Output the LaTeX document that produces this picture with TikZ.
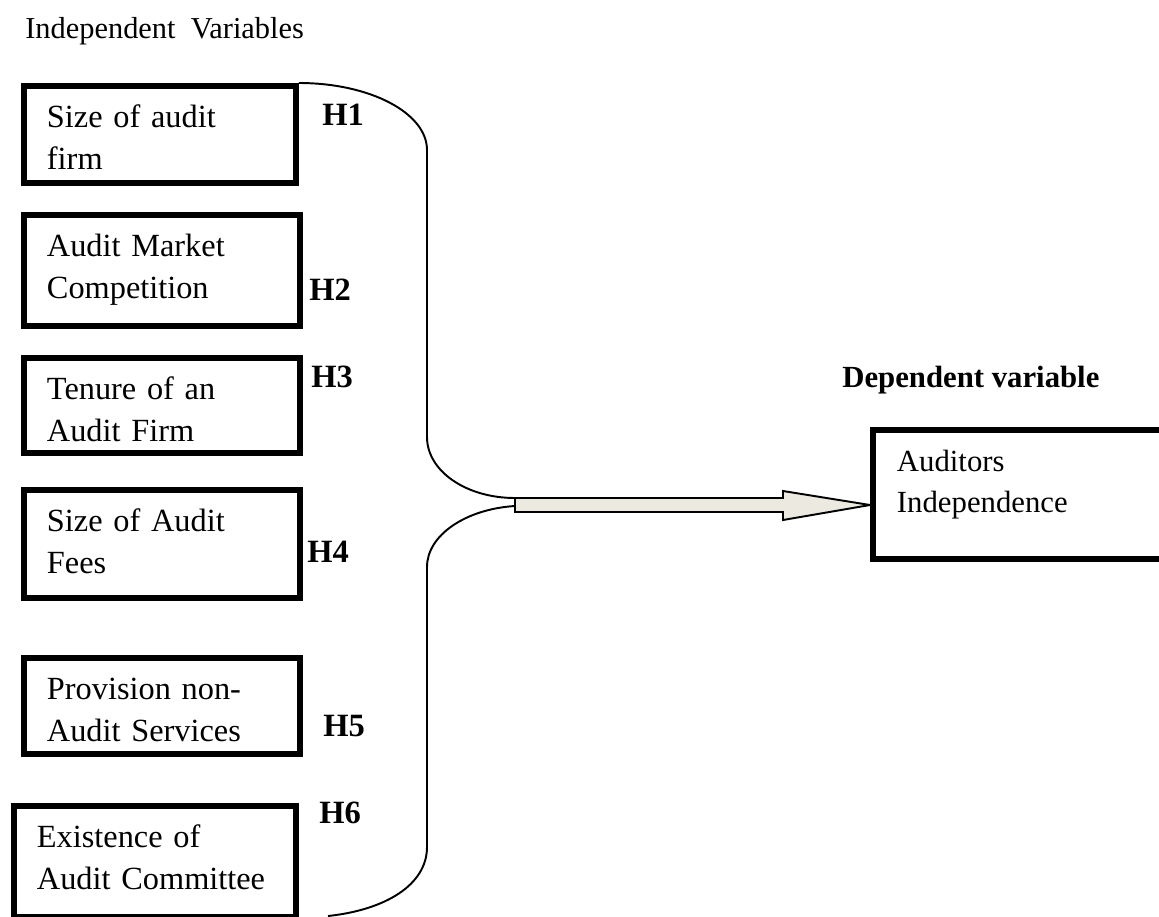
\documentclass[tikz,border=0pt]{standalone}
\usepackage{fontspec}
\setmainfont{Liberation Serif}
\usepackage{tikz}
\usetikzlibrary{positioning}
\usetikzlibrary{calc}
\definecolor{arrowfill}{RGB}{236,234,224}

\begin{document}
\begin{tikzpicture}[x=0.02cm,y=-0.02cm]
	\useasboundingbox (0,0) rectangle (1159,916);

	\node (indeptitle) [anchor=base west, inner sep=0pt, font=\fontsize{17.3}{22}\selectfont] at (25,38) {Independent\ \ Variables};
	\node (deptitle) [anchor=base west, inner sep=0pt, font=\bfseries\fontsize{17.5}{22}\selectfont] at (842,387) {Dependent variable};

	\begin{scope}[every node/.style={draw, line width=3.4pt, anchor=north west, align=left,
	              inner xsep=0.46cm, inner ysep=0pt, text height=0.83cm, text width=4.6cm,
	              font=\fontsize{18.4}{23.8}\selectfont}]
	    \node (firmsize) [text width=4.52cm, text depth=1.12cm] at (21,83) {Size of audit\\firm};
	    \node (market) [text depth=1.40cm] at (21,212) {Audit Market\\Competition};
	    \node (tenure) [text depth=1.08cm] at (21,355) {Tenure of an\\Audit Firm};
	    \node (fees) [text depth=1.34cm] at (21,487) {Size of Audit\\Fees};
	    \node (nonaudit) [text depth=1.10cm] at (21,655) {Provision non-\\Audit Services};
	    \node (committee) [text width=4.72cm, text depth=1.40cm] at (11,803) {Existence of\\Audit Committee};
	    \node (auditors) [inner xsep=0.48cm, text width=5.08cm, text height=0.84cm, text depth=1.74cm,
	                      font=\fontsize{17.5}{23.2}\selectfont] at (870,427) {Auditors\\Independence};
	\end{scope}

	\begin{scope}[every node/.style={anchor=base west, inner sep=0pt, font=\bfseries\fontsize{18.5}{20}\selectfont}]
	    \node (h1) at (322,125) {H1};
	    \node (h2) at (309,300) {H2};
	    \node (h3) at (311,387) {H3};
	    \node (h4) at (307,562) {H4};
	    \node (h5) at (323,736) {H5};
	    \node (h6) at (319,823) {H6};
	\end{scope}

	\begin{scope}[every path/.style={line width=1.1pt}]
	    \coordinate (join) at (515,505);
	    \coordinate (tail) at (328,916);
	    \draw (firmsize.north east) .. controls (370,83) and (427,113) .. (427,150) -- (427,437)
	        .. controls (427,471) and (466,498) .. ($(join)+(0,-7)$);
	    \draw ($(join)+(0,1)$) .. controls (466,509) and (427,535) .. (427,567) -- (427,847)
	        .. controls (427,885) and (385,910) .. (tail);
	    \draw[fill=arrowfill] ($(join)+(0,-7)$) -- ++(268,0) -- ++(0,-7) -- (auditors.west |- join)
	        -- ($(join)+(268,15)$) -- ++(0,-8) -- ($(join)+(0,7)$) -- cycle;
	\end{scope}
\end{tikzpicture}
\end{document}
